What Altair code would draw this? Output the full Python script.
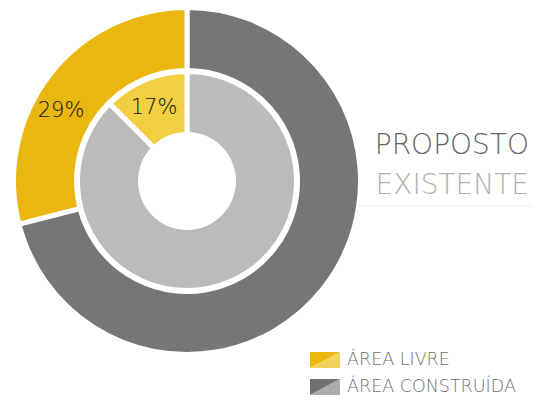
import altair as alt
import pandas as pd

# ---- data ----
categories = ["ÁREA CONSTRUÍDA", "ÁREA LIVRE"]
proposto_values = [71, 29]          # outer ring
existente_values = [87.5, 12.5]     # inner ring (slice as drawn)
proposto_labels = ["71%", "29%"]
existente_labels = ["83%", "17%"]
ring_names = ["PROPOSTO", "EXISTENTE"]
legend_names = ["ÁREA LIVRE", "ÁREA CONSTRUÍDA"]

outer_colors = ["#767676", "#EAB711"]
inner_colors = ["#BBBBBB", "#F2CF40"]
legend_dark = ["#E9B612", "#707070"]
legend_light = ["#F2D25C", "#ABABAB"]

CX, CY = 187, 181

outer_df = pd.DataFrame({"cat": categories, "value": proposto_values,
                         "ord": [0, 1], "color": outer_colors})
inner_df = pd.DataFrame({"cat": categories, "value": existente_values,
                         "ord": [0, 1], "color": inner_colors})

def ring(df, r_out, r_in):
    return alt.Chart(df).mark_arc(
        radius=r_out, radius2=r_in, stroke="white", strokeWidth=5
    ).encode(
        theta=alt.Theta("value:Q", stack=True),
        order=alt.Order("ord:Q"),
        color=alt.Color("color:N", scale=None),
        x=alt.value(CX), y=alt.value(CY),
    )

outer_arc = ring(outer_df, 173.5, 110.5)
inner_arc = ring(inner_df, 109.5, 46.5)

FONT = "DejaVu Sans"

def label(txt, x, y, size, color, align="center", baseline="middle"):
    return alt.Chart(pd.DataFrame({"t": [txt]})).mark_text(
        font=FONT, fontWeight=200, fontSize=size, color=color,
        align=align, baseline=baseline
    ).encode(text="t:N", x=alt.value(x), y=alt.value(y))

pct_outer = label(proposto_labels[1], 61, 111, 21, "#111111")
pct_inner = label(existente_labels[1], 154, 108, 21, "#111111")
title_prop = label(ring_names[0], 529, 146, 28, "#666666", align="right")
title_exist = label(ring_names[1], 529, 186, 28, "#b0b0b0", align="right")

rule = alt.Chart(pd.DataFrame({"a": [0]})).mark_rule(
    color="#ededed", strokeWidth=1
).encode(x=alt.value(356), x2=alt.value(533), y=alt.value(206))

# legend
leg_df = pd.DataFrame({"name": legend_names, "dark": legend_dark,
                       "light": legend_light})
yleg = alt.Y("name:N",
             scale=alt.Scale(domain=legend_names, range=[360, 387], padding=0),
             axis=None)
S = 15
h = 8 / S
tri_ul = f"M-1,{-h}L1,{-h}L-1,{h}Z"
tri_lr = f"M1,{-h}L1,{h}L-1,{h}Z"
sw_dark = alt.Chart(leg_df).mark_point(
    shape=tri_ul, size=4 * S * S, filled=True, opacity=1, strokeWidth=0
).encode(x=alt.value(325), y=yleg, color=alt.Color("dark:N", scale=None))
sw_light = alt.Chart(leg_df).mark_point(
    shape=tri_lr, size=4 * S * S, filled=True, opacity=1, strokeWidth=0
).encode(x=alt.value(325), y=yleg, color=alt.Color("light:N", scale=None))
leg_text = alt.Chart(leg_df).mark_text(
    font=FONT, fontWeight=200, fontSize=17.5, color="#707070",
    align="left", baseline="middle"
).encode(x=alt.value(347), y=yleg, text="name:N")

chart = alt.layer(
    outer_arc, inner_arc, pct_outer, pct_inner, title_prop, title_exist,
    rule, sw_dark, sw_light, leg_text
).resolve_scale(theta="independent").properties(
    width=533, height=401, padding=0, autosize="none", background="white"
).configure_view(stroke=None)

chart.save("out.html", embed_options={"renderer": "svg", "actions": False})
